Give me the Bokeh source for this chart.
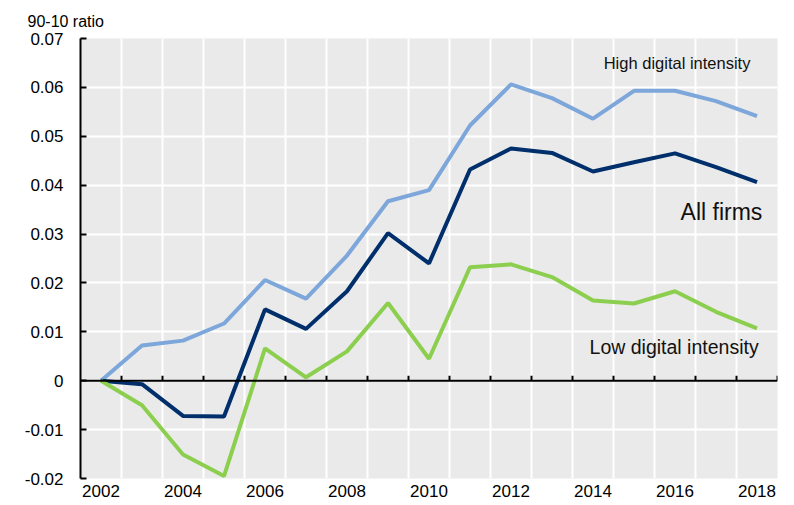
from bokeh.plotting import figure
from bokeh.models import (Range1d, FixedTicker, CustomJSTickFormatter, Label, Span,
                          ColumnDataSource)
from bokeh.embed import file_html
from bokeh.resources import INLINE

years = list(range(2002, 2019))
high = [0.0, 0.0072, 0.0082, 0.0117, 0.0206, 0.0168, 0.0256, 0.0367, 0.0390,
        0.0522, 0.0606, 0.0578, 0.0536, 0.0593, 0.0593, 0.0572, 0.0541]
allf = [0.0, -0.0007, -0.0072, -0.0073, 0.0146, 0.0106, 0.0183, 0.0302, 0.0240,
        0.0432, 0.0475, 0.0466, 0.0428, 0.0447, 0.0465, 0.0437, 0.0406]
low = [0.0, -0.0050, -0.0151, -0.0195, 0.0066, 0.0007, 0.0060, 0.0159, 0.0045,
       0.0232, 0.0238, 0.0212, 0.0164, 0.0158, 0.0183, 0.0141, 0.0107]
x_tick_years = [2002, 2004, 2006, 2008, 2010, 2012, 2014, 2016, 2018]
y_ticks = [-0.02, -0.01, 0.0, 0.01, 0.02, 0.03, 0.04, 0.05, 0.06, 0.07]
y_title = "90-10 ratio"
series_labels = ["High digital intensity", "All firms", "Low digital intensity"]

FONT = "Liberation Sans"
C_HIGH = "#7DA7DA"
C_ALL = "#002F6C"
C_LOW = "#8CCF4F"

p = figure(width=794, height=505, output_backend="svg", toolbar_location=None,
           x_range=Range1d(2001.5, 2018.5), y_range=Range1d(-0.02, 0.07),
           min_border_left=80, min_border_right=17, min_border_top=38,
           min_border_bottom=27)
p.outline_line_color = None
p.background_fill_color = "#EAEAEA"
p.border_fill_color = "white"

p.title.text = y_title
p.title.align = "left"
p.title.offset = -53
p.title.standoff = 17
p.title.text_font = FONT
p.title.text_font_size = "16px"
p.title.text_font_style = "normal"
p.title.text_color = "black"

boundaries = [y + 0.5 for y in years]
p.xgrid.ticker = FixedTicker(ticks=boundaries[:-1])
p.ygrid.ticker = FixedTicker(ticks=y_ticks)
for g in (p.xgrid, p.ygrid):
    g.grid_line_color = "white"
    g.grid_line_width = 2

# x axis: labels only
xa = p.xaxis[0]
xa.ticker = FixedTicker(ticks=x_tick_years)
xa.axis_line_color = None
xa.major_tick_line_color = None
xa.minor_tick_line_color = None
xa.major_tick_in = 0
xa.major_tick_out = 0
xa.major_label_standoff = 6
xa.major_label_text_font = FONT
xa.major_label_text_font_size = "17px"
xa.major_label_text_color = "black"

ya = p.yaxis[0]
ya.ticker = FixedTicker(ticks=y_ticks)
ya.formatter = CustomJSTickFormatter(code="""
  if (Math.abs(tick) < 1e-9) return "0";
  return tick.toFixed(2);
""")
ya.axis_line_color = "black"
ya.axis_line_width = 2
ya.major_tick_line_color = "black"
ya.major_tick_line_width = 2
ya.major_tick_in = 6
ya.major_tick_out = 0
ya.minor_tick_line_color = None
ya.major_label_standoff = 17
ya.major_label_text_font = FONT
ya.major_label_text_font_size = "17px"
ya.major_label_text_color = "black"

# zero line with small upward ticks at year boundaries
p.add_layout(Span(location=0, dimension="width", line_color="black", line_width=2))
tick_h = 0.001
p.segment(x0=boundaries, y0=[0] * len(boundaries), x1=boundaries,
          y1=[tick_h] * len(boundaries), line_color="black", line_width=2)

src = ColumnDataSource(dict(year=years, high=high, allf=allf, low=low))
p.line("year", "high", source=src, line_color=C_HIGH, line_width=4)
p.line("year", "allf", source=src, line_color=C_ALL, line_width=4)
p.line("year", "low", source=src, line_color=C_LOW, line_width=4)

p.add_layout(Label(x=2017.84, y=0.0649, text=series_labels[0], text_font=FONT,
                   text_font_size="16.5px", text_color="#111111",
                   text_baseline="middle", text_align="right"))
p.add_layout(Label(x=2018.13, y=0.0346, text=series_labels[1], text_font=FONT,
                   text_font_size="23px", text_color="#111111",
                   text_baseline="alphabetic", text_align="right"))
p.add_layout(Label(x=2018.04, y=0.0070, text=series_labels[2], text_font=FONT,
                   text_font_size="19.5px", text_color="#111111",
                   text_baseline="alphabetic", text_align="right"))

open("out.html", "w").write(file_html(p, INLINE))
